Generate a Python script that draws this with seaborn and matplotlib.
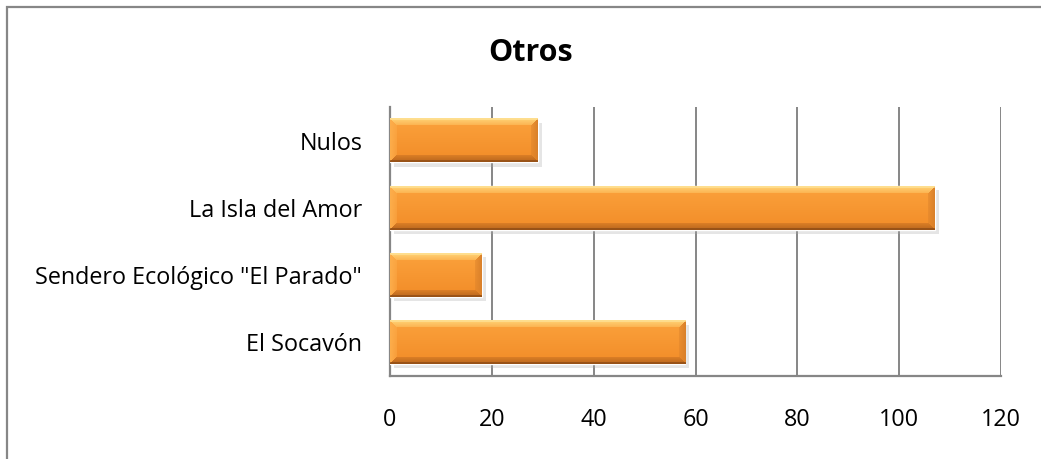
import numpy as np
import matplotlib
matplotlib.use("Agg")
import matplotlib.pyplot as plt
import matplotlib.patheffects as pe
from matplotlib.patches import Rectangle
import seaborn as sns
import pandas as pd

# Data
categories = ["Nulos", "La Isla del Amor", 'Sendero Ecológico "El Parado"', "El Socavón"]
values = [29, 107, 18, 58]
x_ticks = [0, 20, 40, 60, 80, 100, 120]
title = "Otros"

sns.set_theme(style="white")
plt.rcParams["font.family"] = ["Open Sans", "DejaVu Sans"]

W, H, DPI = 1041, 459, 100
fig = plt.figure(figsize=(W / DPI, H / DPI), dpi=DPI)
ax_left, ax_right, ax_top, ax_bottom = 390 / W, 1001 / W, 1 - 107 / H, 1 - 376 / H
ax = fig.add_axes([ax_left, ax_bottom, ax_right - ax_left, ax_top - ax_bottom])

df = pd.DataFrame({"categoria": categories, "valor": values})
bar_width = 0.65
sns.barplot(data=df, x="valor", y="categoria", orient="h", color="#F7932E",
            width=bar_width, ax=ax, zorder=3, saturation=1)

ax.set_xlim(0, 120)
ax.set_ylim(len(categories) - 0.5, -0.5)

# Pixel scale, used to size the bevel of each bar
px_per_unit = (ax_right - ax_left) * W / 120.0
px_per_cat = (ax_top - ax_bottom) * H / len(categories)


def hex_rgb(h):
    h = h.lstrip("#")
    return np.array([int(h[i:i + 2], 16) / 255 for i in (0, 2, 4)])


def bevel_image(w_px, h_px, b=7):
    ys = np.arange(h_px)[:, None] + 0.5
    xs = np.arange(w_px)[None, :] + 0.5
    t = ys / h_px
    top_c, bot_c = hex_rgb("#FBA23C"), hex_rgb("#F28C28")
    img = np.ones((h_px, w_px, 3)) * (top_c * (1 - t) + bot_c * t)[..., None].transpose(0, 2, 1)
    d_top = ys * np.ones_like(xs)
    d_bot = (h_px - ys) * np.ones_like(xs)
    d_left = xs * np.ones_like(ys)
    d_right = (w_px - xs) * np.ones_like(ys)
    d = np.stack([d_top, d_bot, d_left, d_right])
    nearest = d.argmin(axis=0)
    dmin = d.min(axis=0)
    cols = [hex_rgb("#FFD478"), hex_rgb("#B8661E"), hex_rgb("#FDAE4C"), hex_rgb("#D9802A")]
    for k, c in enumerate(cols):
        m = (nearest == k) & (dmin < b)
        f = (1 - dmin / b)[m][:, None] * 0.6 + 0.4
        img[m] = img[m] * (1 - f) + c * f
    # thin highlight at the very top and dark rim at the bottom
    img[0:2] = img[0:2] * 0.4 + hex_rgb("#FFE7A0") * 0.6
    img[-2:] = img[-2:] * 0.3 + hex_rgb("#8A4A14") * 0.7
    return img


for patch in ax.patches:
    x0, y0 = patch.get_x(), patch.get_y()
    w, h = patch.get_width(), patch.get_height()
    patch.set_path_effects([pe.SimplePatchShadow(offset=(3, -3), shadow_rgbFace="#aaaaaa", alpha=0.3),
                            pe.Normal()])
    w_px = max(int(round(w * px_per_unit)), 2)
    h_px = max(int(round(h * px_per_cat)), 2)
    img = bevel_image(w_px, h_px)
    ax.imshow(img, extent=(x0, x0 + w, y0 + h, y0), origin="upper",
              aspect="auto", zorder=4, interpolation="bilinear")

ax.set_xlim(0, 120)
ax.set_ylim(len(categories) - 0.5, -0.5)
ax.set_aspect("auto")

# Axes styling
ax.set_xticks(x_ticks)
ax.set_xticklabels([str(v) for v in x_ticks])
ax.xaxis.grid(True, color="#868686", linewidth=1.4, zorder=0)
ax.set_axisbelow(True)
ax.tick_params(axis="x", length=0, pad=23, labelsize=16.8, colors="black")
ax.tick_params(axis="y", length=0, pad=20, labelsize=16.8, colors="black")
ax.set_xlabel("")
ax.set_ylabel("")
for s in ["top", "right"]:
    ax.spines[s].set_visible(False)
for s in ["left", "bottom"]:
    ax.spines[s].set_color("#868686")
    ax.spines[s].set_linewidth(1.6)

fig.text(531 / W, 1 - 53 / H, title, ha="center", va="center",
         fontsize=22, fontweight="bold", color="black")

# Chart frame
fig.patches.append(Rectangle((7 / W, -0.2), 1.3, 1 - 7 / H + 0.2, transform=fig.transFigure,
                             fill=False, edgecolor="#878787", linewidth=1.6, zorder=10))

fig.savefig("out.png", dpi=DPI, facecolor="white")
